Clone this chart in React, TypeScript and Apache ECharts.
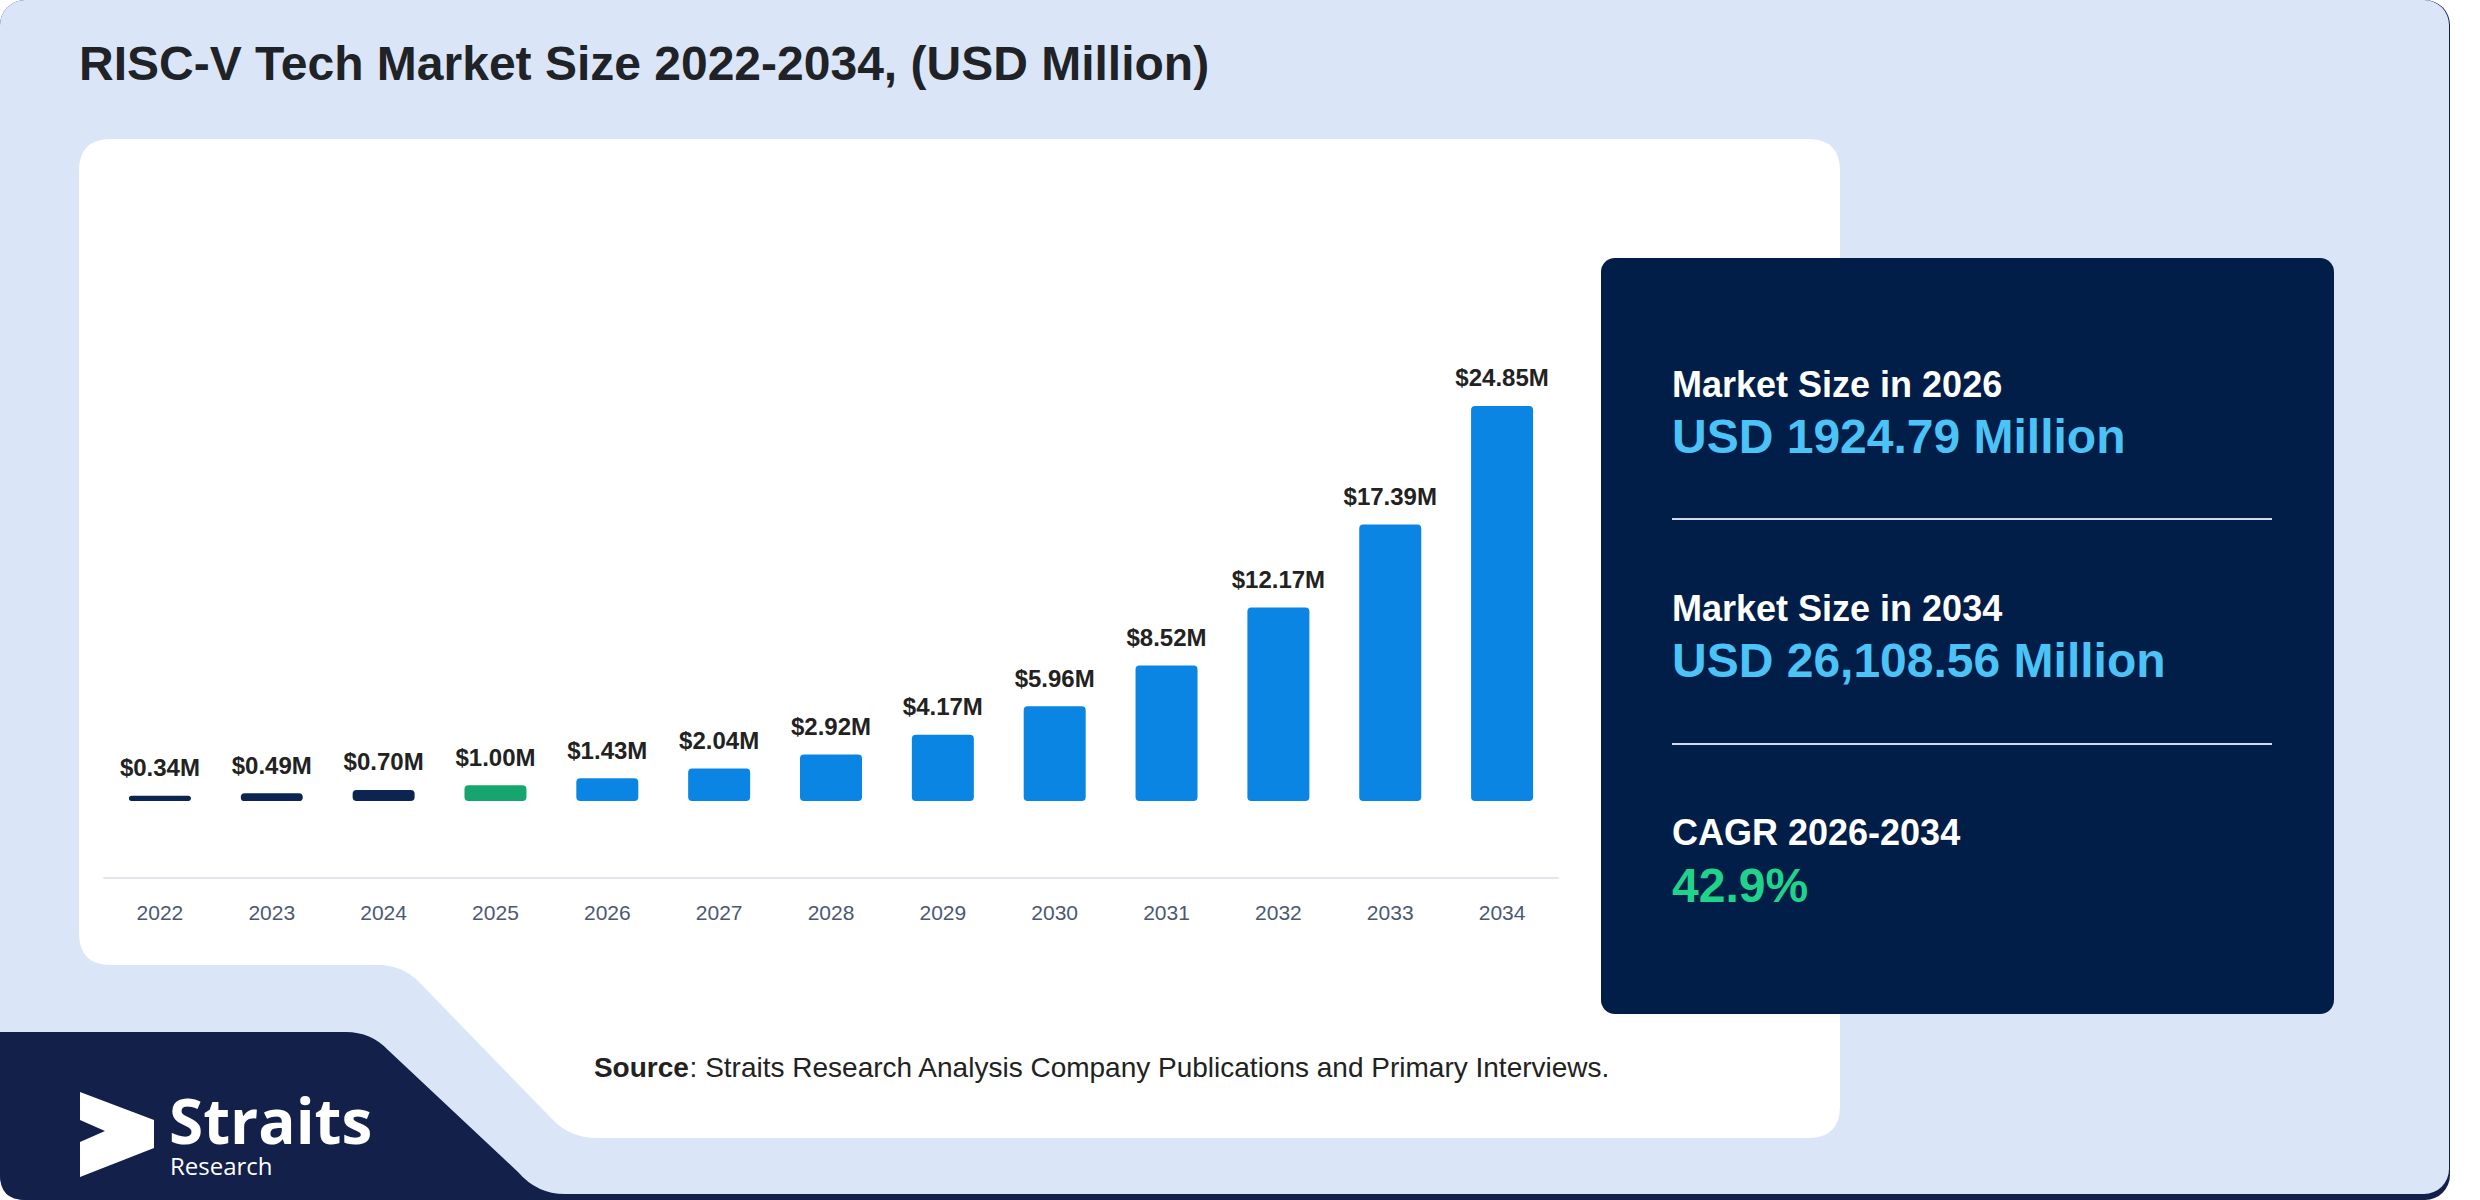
import React, { useEffect, useRef } from "react";
import * as echarts from "echarts";

const years = ["2022", "2023", "2024", "2025", "2026", "2027", "2028", "2029", "2030", "2031", "2032", "2033", "2034"];
const values = [0.34, 0.49, 0.7, 1.0, 1.43, 2.04, 2.92, 4.17, 5.96, 8.52, 12.17, 17.39, 24.85];
const valueLabels = ["$0.34M", "$0.49M", "$0.70M", "$1.00M", "$1.43M", "$2.04M", "$2.92M", "$4.17M", "$5.96M", "$8.52M", "$12.17M", "$17.39M", "$24.85M"];
const baseYear = "2025";

const titleText = "RISC-V Tech Market Size 2022-2034, (USD Million)";
const statLabels = ["Market Size in 2026", "Market Size in 2034", "CAGR 2026-2034"];
const statValues = ["USD 1924.79 Million", "USD 26,108.56 Million", "42.9%"];
const sourceRest = ": Straits Research Analysis Company Publications and Primary Interviews.";

const FONT = "'Liberation Sans', Arial, Helvetica, sans-serif";
const LOGO_FONT = "'Open Sans', 'Noto Sans', sans-serif";

const cardPath =
  "M111 139 H1808 Q1840 139 1840 171 V1106 Q1840 1138 1808 1138 H598 Q570 1138 553 1120 L420 983 Q403 965 378 965 H111 Q79 965 79 933 V171 Q79 139 111 139 Z";
const navyPath =
  "M0 1032 H346 Q371 1032 388 1050 L518 1172 Q537 1194 565 1194 H700 V1200 H25 Q0 1200 0 1175 Z";

echarts.graphic.registerShape("whiteCard", echarts.graphic.extendPath(cardPath, {}));
echarts.graphic.registerShape("navyShape", echarts.graphic.extendPath(navyPath, {}));

function barColor(year: string) {
  if (year < baseYear) return "#0c2450";
  if (year === baseYear) return "#16a56f";
  return "#0b85e3";
}

function txt(text: string, x: number, y: number, size: number, fill: string, weight: string = "bold", family: string = FONT, lineHeight?: number) {
  return {
    type: "text",
    x,
    y,
    z: 10,
    style: {
      text,
      fill,
      fontSize: size,
      fontWeight: weight,
      fontFamily: family,
      lineHeight: lineHeight || size,
      align: "left",
      verticalAlign: "middle",
      textAlign: "left",
      textVerticalAlign: "middle",
    },
  };
}

export default function App() {
  const ref = useRef<HTMLDivElement>(null);

  useEffect(() => {
    document.body.style.margin = "0";
    if (!ref.current) return;
    const chart = echarts.init(ref.current, undefined, { renderer: "svg" });

    const statYs = [384, 608, 832];
    const valueYs = [436, 660, 885];
    const statGraphics: any[] = [];
    statLabels.forEach((s, i) => {
      statGraphics.push(txt(s, 1672, statYs[i], 36, "#ffffff"));
      statGraphics.push(txt(statValues[i], 1672, valueYs[i], 48, i === 2 ? "#20d38b" : "#4cc3f7"));
    });

    chart.setOption({
      animation: false,
      backgroundColor: "transparent",
      graphic: [
        { type: "rect", z: 0, shape: { x: 0, y: 0, width: 2450, height: 1200, r: 25 }, style: { fill: "#13204a" } },
        { type: "rect", z: 0, shape: { x: 0, y: 0, width: 2449, height: 1194, r: 25 }, style: { fill: "#dae6f8" } },
        { type: "navyShape", z: 0, x: 0, y: 0, style: { fill: "#13204a" } },
        { type: "whiteCard", z: 0, x: 0, y: 0, style: { fill: "#ffffff" } },
        { type: "rect", z: 1, shape: { x: 1601, y: 258, width: 733, height: 756, r: 14 }, style: { fill: "#001e48" } },
        { type: "line", z: 2, shape: { x1: 1672, y1: 519, x2: 2272, y2: 519 }, style: { stroke: "#d3dae5", lineWidth: 2 } },
        { type: "line", z: 2, shape: { x1: 1672, y1: 744, x2: 2272, y2: 744 }, style: { stroke: "#d3dae5", lineWidth: 2 } },
        txt(titleText, 79, 63, 48, "#1f2327"),
        ...statGraphics,
        {
          type: "text",
          x: 1102,
          y: 1067,
          z: 10,
          style: {
            text: "{b|Source}" + sourceRest,
            fill: "#222222",
            fontSize: 28,
            fontFamily: FONT,
            align: "center",
            verticalAlign: "middle",
            textAlign: "center",
            textVerticalAlign: "middle",
            rich: { b: { fontWeight: "bold", fontSize: 28, fontFamily: FONT, fill: "#222222" } },
          },
        },
        {
          type: "polygon",
          z: 5,
          shape: { points: [[80, 1092], [154, 1120], [154, 1148], [80, 1177], [80, 1142], [105, 1131], [80, 1120]] },
          style: { fill: "#ffffff" },
        },
        txt("Straits", 169, 1120, 62, "#ffffff", "bold", LOGO_FONT, 46),
        txt("Research", 170, 1165, 24, "#ffffff", "normal", LOGO_FONT, 22),
      ],
      grid: { left: 104, right: 2480 - 1558, top: 324, bottom: 322, containLabel: false },
      xAxis: {
        type: "category",
        data: years,
        axisLine: { show: true, onZero: false, lineStyle: { color: "#e3e6ea", width: 2 } },
        axisTick: { show: false },
        axisLabel: { color: "#4a5874", fontSize: 21, fontFamily: FONT, margin: 24 },
        splitLine: { show: false },
      },
      yAxis: {
        type: "value",
        min: -4.84,
        max: 30,
        show: false,
        splitLine: { show: false },
      },
      series: [
        {
          type: "bar",
          barWidth: 62,
          z: 5,
          data: values.map((v, i) => ({ value: v, itemStyle: { color: barColor(years[i]), borderRadius: 4 } })),
          label: {
            show: true,
            position: "top",
            distance: 16,
            formatter: (p: any) => valueLabels[p.dataIndex],
            color: "#222222",
            fontSize: 24,
            fontWeight: "bold",
            fontFamily: FONT,
          },
        },
      ],
    });

    return () => chart.dispose();
  }, []);

  return <div ref={ref} style={{ position: "absolute", left: 0, top: 0, width: 2480, height: 1200 }} />;
}
